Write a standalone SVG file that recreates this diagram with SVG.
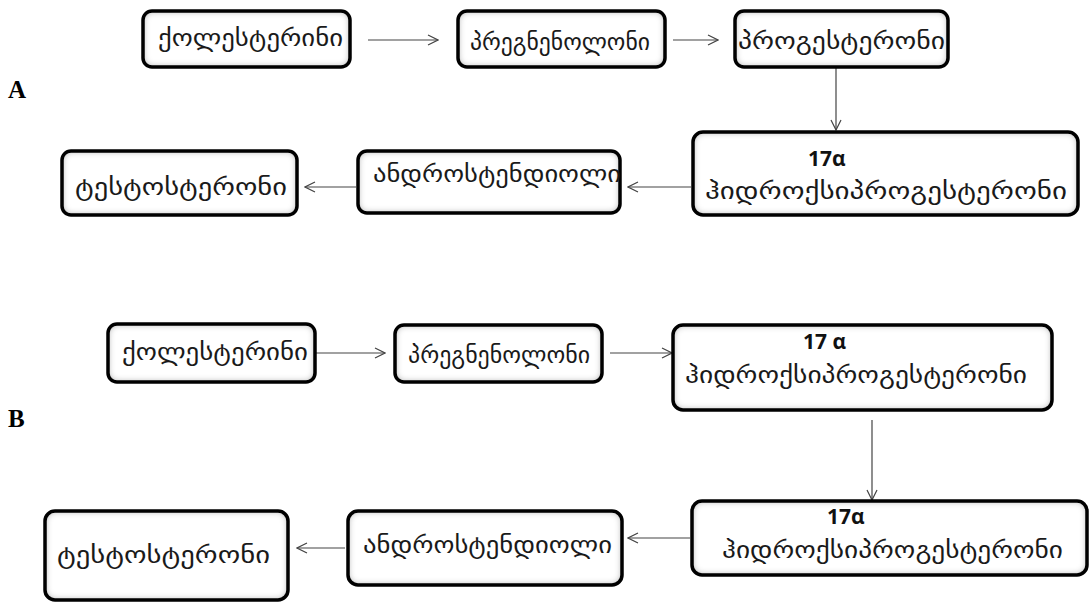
<svg xmlns="http://www.w3.org/2000/svg" width="1089" height="602" viewBox="0 0 1089 602">
<style>
.bg{fill:#fff;stroke:none;filter:url(#inner)}
.box{fill:none;stroke:#000;stroke-width:3.5}
.ka{font-family:"DejaVu Sans","Noto Sans",sans-serif;font-size:24px;fill:#1a1a1a}
.num{font-family:"Open Sans","Liberation Sans",Arial,sans-serif;font-weight:bold;font-size:21px;fill:#111}
.lab{font-family:"Liberation Serif","Times New Roman",serif;font-weight:bold;font-size:25px;fill:#000}
.c{stroke:#444;stroke-width:1.2;fill:none;marker-end:url(#ah)}
</style>
<defs>
<filter id="inner" x="-5%" y="-10%" width="110%" height="120%">
<feFlood flood-color="#7a7a7a" result="f"/>
<feComposite in="f" in2="SourceAlpha" operator="out" result="o"/>
<feGaussianBlur in="o" stdDeviation="3.5" result="b"/>
<feComposite in="b" in2="SourceAlpha" operator="in" result="s"/>
<feMerge><feMergeNode in="SourceGraphic"/><feMergeNode in="s"/></feMerge>
</filter>
<marker id="ah" viewBox="0 0 12 12" refX="11" refY="6" markerWidth="12" markerHeight="12" markerUnits="userSpaceOnUse" orient="auto">
<path d="M1,1 L11,6 L1,11" fill="none" stroke="#444" stroke-width="1.2"/>
</marker>
</defs>
<rect width="1089" height="602" fill="#fff"/>
<text class="lab" x="8" y="98">A</text>
<text class="lab" x="8" y="427">B</text>
<g id="connectors">
<line class="c" x1="368" y1="40" x2="438" y2="40"/>
<line class="c" x1="673" y1="40" x2="718" y2="40"/>
<line class="c" x1="836" y1="68" x2="836" y2="130"/>
<line class="c" x1="691" y1="187" x2="628" y2="187"/>
<line class="c" x1="356" y1="187" x2="305" y2="187"/>
<line class="c" x1="316" y1="353" x2="385" y2="353"/>
<line class="c" x1="610" y1="353" x2="672" y2="353"/>
<line class="c" x1="872" y1="420" x2="872" y2="500"/>
<line class="c" x1="690" y1="538" x2="628" y2="538"/>
<line class="c" x1="345" y1="548" x2="297" y2="548"/>
</g>
<g id="a1"><rect class="bg" x="143" y="11" width="207" height="56" rx="9"/><rect class="box" x="143" y="11" width="207" height="56" rx="9"/><text class="ka" x="158" y="46" textLength="185" lengthAdjust="spacingAndGlyphs">ქოლესტერინი</text></g>
<g id="a2"><rect class="bg" x="458" y="11" width="207" height="56" rx="9"/><rect class="box" x="458" y="11" width="207" height="56" rx="9"/><text class="ka" x="470" y="50" textLength="180" lengthAdjust="spacingAndGlyphs">პრეგნენოლონი</text></g>
<g id="a3"><rect class="bg" x="735" y="11" width="213" height="56" rx="9"/><rect class="box" x="735" y="11" width="213" height="56" rx="9"/><text class="ka" x="738" y="49" textLength="207" lengthAdjust="spacingAndGlyphs">პროგესტერონი</text></g>
<g id="a4"><rect class="bg" x="693" y="132" width="385" height="83" rx="10"/><rect class="box" x="693" y="132" width="385" height="83" rx="10"/><text class="num" x="808" y="166">17α</text><text class="ka" x="705" y="199" textLength="362" lengthAdjust="spacingAndGlyphs">ჰიდროქსიპროგესტერონი</text></g>
<g id="a5"><rect class="bg" x="358" y="151" width="262" height="62" rx="9"/><rect class="box" x="358" y="151" width="262" height="62" rx="9"/><text class="ka" x="373" y="182" textLength="248" lengthAdjust="spacingAndGlyphs">ანდროსტენდიოლი</text></g>
<g id="a6"><rect class="bg" x="62" y="151" width="235" height="64" rx="9"/><rect class="box" x="62" y="151" width="235" height="64" rx="9"/><text class="ka" x="75" y="195" textLength="212" lengthAdjust="spacingAndGlyphs">ტესტოსტერონი</text></g>
<g id="b1"><rect class="bg" x="108" y="324" width="207" height="58" rx="9"/><rect class="box" x="108" y="324" width="207" height="58" rx="9"/><text class="ka" x="122" y="360" textLength="186" lengthAdjust="spacingAndGlyphs">ქოლესტერინი</text></g>
<g id="b2"><rect class="bg" x="395" y="325" width="207" height="57" rx="9"/><rect class="box" x="395" y="325" width="207" height="57" rx="9"/><text class="ka" x="408" y="363" textLength="182" lengthAdjust="spacingAndGlyphs">პრეგნენოლონი</text></g>
<g id="b3"><rect class="bg" x="673" y="325" width="379" height="85" rx="10"/><rect class="box" x="673" y="325" width="379" height="85" rx="10"/><text class="num" x="803" y="349">17 α</text><text class="ka" x="685" y="383" textLength="342" lengthAdjust="spacingAndGlyphs">ჰიდროქსიპროგესტერონი</text></g>
<g id="b4"><rect class="bg" x="692" y="501" width="395" height="74" rx="10"/><rect class="box" x="692" y="501" width="395" height="74" rx="10"/><text class="num" x="827" y="524">17α</text><text class="ka" x="722" y="558" textLength="341" lengthAdjust="spacingAndGlyphs">ჰიდროქსიპროგესტერონი</text></g>
<g id="b5"><rect class="bg" x="348" y="511" width="274" height="74" rx="10"/><rect class="box" x="348" y="511" width="274" height="74" rx="10"/><text class="ka" x="363" y="553" textLength="249" lengthAdjust="spacingAndGlyphs">ანდროსტენდიოლი</text></g>
<g id="b6"><rect class="bg" x="45" y="511" width="243" height="89" rx="10"/><rect class="box" x="45" y="511" width="243" height="89" rx="10"/><text class="ka" x="57" y="563" textLength="213" lengthAdjust="spacingAndGlyphs">ტესტოსტერონი</text></g>
</svg>
